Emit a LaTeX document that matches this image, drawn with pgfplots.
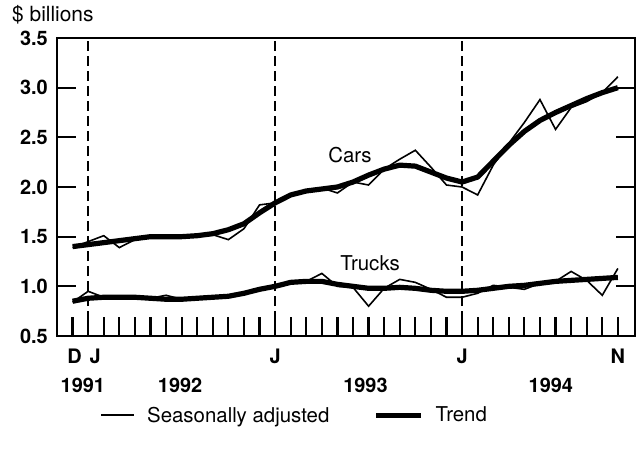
\documentclass[border=0pt]{standalone}
\usepackage{pgfplots}
\pgfplotsset{compat=1.18}
\usepackage{pgfplotstable}
\usepackage{fontspec}
\setmainfont{TeX Gyre Heros}

\pgfplotsset{
  thinleg/.style={legend image code/.code={\draw[##1] (0bp,0bp) -- (33bp,0bp);}},
  thickleg/.style={legend image code/.code={\draw[##1] (0bp,0bp) -- (45bp,0bp);}},
}

\pgfplotstableread{
i sa trend
0 1.39 1.40
1 1.45 1.42
2 1.51 1.44
3 1.39 1.46
4 1.47 1.48
5 1.49 1.50
6 1.50 1.50
7 1.51 1.50
8 1.50 1.51
9 1.52 1.53
10 1.47 1.57
11 1.58 1.63
12 1.82 1.74
13 1.84 1.84
14 1.93 1.92
15 1.97 1.96
16 1.99 1.98
17 1.94 2.00
18 2.05 2.05
19 2.02 2.12
20 2.18 2.18
21 2.28 2.22
22 2.37 2.21
23 2.20 2.15
24 2.02 2.09
25 2.00 2.05
26 1.92 2.10
27 2.22 2.26
28 2.44 2.42
29 2.65 2.56
30 2.88 2.67
31 2.58 2.75
32 2.80 2.82
33 2.86 2.89
34 2.95 2.95
35 3.11 3.00
}\cars

\pgfplotstableread{
i sa trend
0 0.84 0.85
1 0.95 0.88
2 0.89 0.89
3 0.90 0.89
4 0.89 0.89
5 0.88 0.88
6 0.91 0.87
7 0.87 0.87
8 0.88 0.88
9 0.89 0.89
10 0.90 0.90
11 0.93 0.93
12 0.98 0.97
13 1.00 1.00
14 1.05 1.04
15 1.05 1.05
16 1.13 1.05
17 1.00 1.02
18 0.99 1.00
19 0.80 0.98
20 0.98 0.98
21 1.07 0.99
22 1.04 0.98
23 0.97 0.96
24 0.89 0.95
25 0.89 0.95
26 0.93 0.96
27 1.01 0.98
28 0.99 1.00
29 0.97 1.01
30 1.03 1.03
31 1.05 1.05
32 1.15 1.06
33 1.06 1.07
34 0.91 1.08
35 1.18 1.09
}\trucks

\begin{document}
\begin{tikzpicture}
\begin{axis}[
  scale only axis,
  width=578bp, height=298bp,
  xmin=-1, xmax=36.1,
  ymin=0.5, ymax=3.5,
  clip=false,
  axis line style={line width=2.6bp},
  tick style={line width=2.2bp, black},
  major tick length=19bp,
  tick align=inside,
  xtick pos=bottom,
  ytick pos=both,
  yticklabel pos=left,
  xtick={0,...,35},
  xticklabels={\hspace{4bp}D,\hspace{14bp}J,,,,,,,,,,,,J,,,,,,,,,,,,J,,,,,,,,,,N},
  xticklabel style={font=\fontsize{20}{24}\selectfont\bfseries, anchor=base, inner sep=0pt, yshift=-27bp},
  ytick={0.5,1,1.5,2,2.5,3,3.5},
  yticklabel style={font=\fontsize{20}{24}\selectfont\bfseries, anchor=east, inner sep=0pt, xshift=-9bp, /pgf/number format/fixed, /pgf/number format/fixed zerofill, /pgf/number format/precision=1},
  /pgf/number format/assume math mode=true,
  legend columns=2,
  legend style={draw=none, fill=none, font=\fontsize{20.5}{24}\selectfont, at={(rel axis cs:0.075,-0.237)}, anchor=north west, inner sep=0pt,
    nodes={inner sep=0pt},
    /tikz/every odd column/.append style={column sep=12bp},
    /tikz/every even column/.append style={column sep=44bp}},
]
\addplot[black, line width=1.6bp, thinleg] table[x=i, y=sa] {\cars};
\addlegendentry{Seasonally adjusted}
\addplot[black, line width=5.2bp, line join=round, thickleg] table[x=i, y=trend] {\cars};
\addlegendentry{Trend}
\addplot[black, line width=1.6bp, forget plot] table[x=i, y=sa] {\trucks};
\addplot[black, line width=5.2bp, line join=round, forget plot] table[x=i, y=trend] {\trucks};
\addplot[black, line width=2.4bp, dash pattern=on 10bp off 5bp, forget plot] coordinates {(1,0.5) (1,3.5)};
\addplot[black, line width=2.4bp, dash pattern=on 10bp off 5bp, forget plot] coordinates {(13,0.5) (13,3.5)};
\addplot[black, line width=2.4bp, dash pattern=on 10bp off 5bp, forget plot] coordinates {(25,0.5) (25,3.5)};
\node[font=\fontsize{20.5}{24}\selectfont] at (axis cs:17.8,2.32) {Cars};
\node[font=\fontsize{20.5}{24}\selectfont] at (axis cs:19.1,1.235) {Trucks};
\node[font=\fontsize{21}{24}\selectfont, anchor=base west, inner sep=0pt] at ([xshift=-45bp, yshift=16bp]rel axis cs:0,1) {\$ billions};
\foreach \yr/\xx in {1991/0.66, 1992/6.9, 1993/18.8, 1994/30.7} {
  \edef\tmp{\noexpand\node[font=\noexpand\fontsize{20}{24}\noexpand\selectfont\noexpand\bfseries, anchor=base, inner sep=0pt] at ([yshift=-56bp]axis cs:\xx,0.5) {\yr};}
  \tmp
}
\coordinate (bl) at (rel axis cs:0,0);
\end{axis}
\pgfresetboundingbox
\path ([xshift=-57bp, yshift=-118bp]bl) rectangle ++(639bp,454bp);
\end{tikzpicture}
\end{document}
